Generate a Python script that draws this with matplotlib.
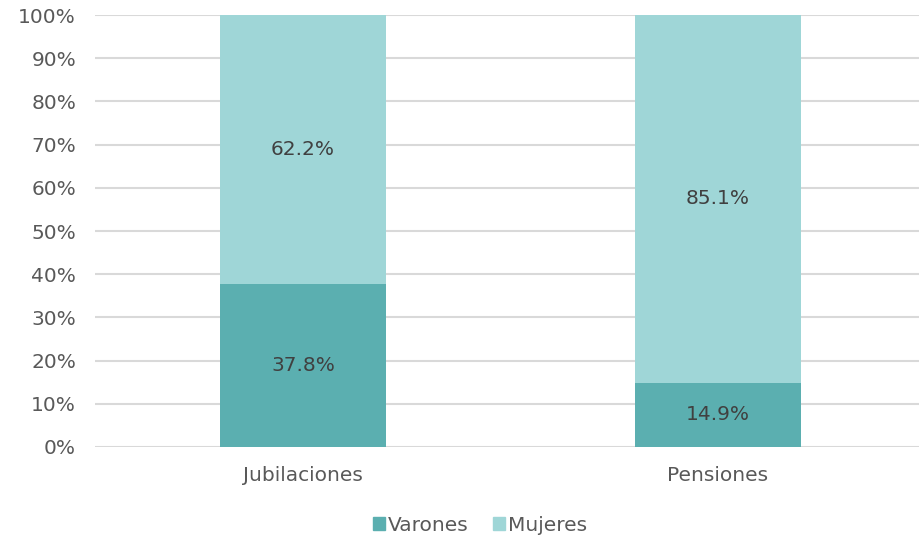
import matplotlib
matplotlib.use("Agg")
from matplotlib import pyplot as plt
from matplotlib.patches import Patch

categories = ['Jubilaciones', 'Pensiones']
varones = [37.8, 14.9]
mujeres = [62.2, 85.1]
yticks = [0, 10, 20, 30, 40, 50, 60, 70, 80, 90, 100]

c_var = '#5BAFB0'
c_muj = '#9FD6D7'
txt = '#595959'

plt.rcParams['font.family'] = ['DejaVu Sans']

fig = plt.figure(figsize=(9.2, 5.42), dpi=100)
ax = fig.add_axes([0.1038, 0.1753, 0.902, 0.797])

x = list(range(len(categories)))
ax.bar(x, varones, width=0.4, color=c_var, zorder=3)
ax.bar(x, mujeres, width=0.4, bottom=varones, color=c_muj, zorder=3)

for i in x:
    ax.text(i, varones[i] / 2, f'{varones[i]:.1f}%', ha='center', va='center',
            fontsize=14.5, color='#404040', zorder=4)
    ax.text(i, varones[i] + mujeres[i] / 2, f'{mujeres[i]:.1f}%', ha='center', va='center',
            fontsize=14.5, color='#404040', zorder=4)

ax.set_xlim(-0.5, 1.5)
ax.set_ylim(0, 100)
ax.set_yticks(yticks)
ax.set_yticklabels([f'{v}%' for v in yticks])
ax.set_xticks(x)
ax.set_xticklabels(categories)
ax.tick_params(axis='both', length=0, labelsize=14.5, colors=txt)
ax.tick_params(axis='y', pad=14)
ax.tick_params(axis='x', pad=14)
ax.yaxis.grid(True, color='#D9D9D9', linewidth=1.5, zorder=0)
for s in ax.spines.values():
    s.set_visible(False)

handles = [Patch(color=c_var, label='Varones'), Patch(color=c_muj, label='Mujeres')]
fig.legend(handles=handles, loc='center', bbox_to_anchor=(0.522, 0.031), ncol=2,
           frameon=False, fontsize=14.5, labelcolor=txt, handlelength=0.6,
           handleheight=0.6, handletextpad=0.15, columnspacing=1.2)

fig.savefig('out.png', dpi=100)
